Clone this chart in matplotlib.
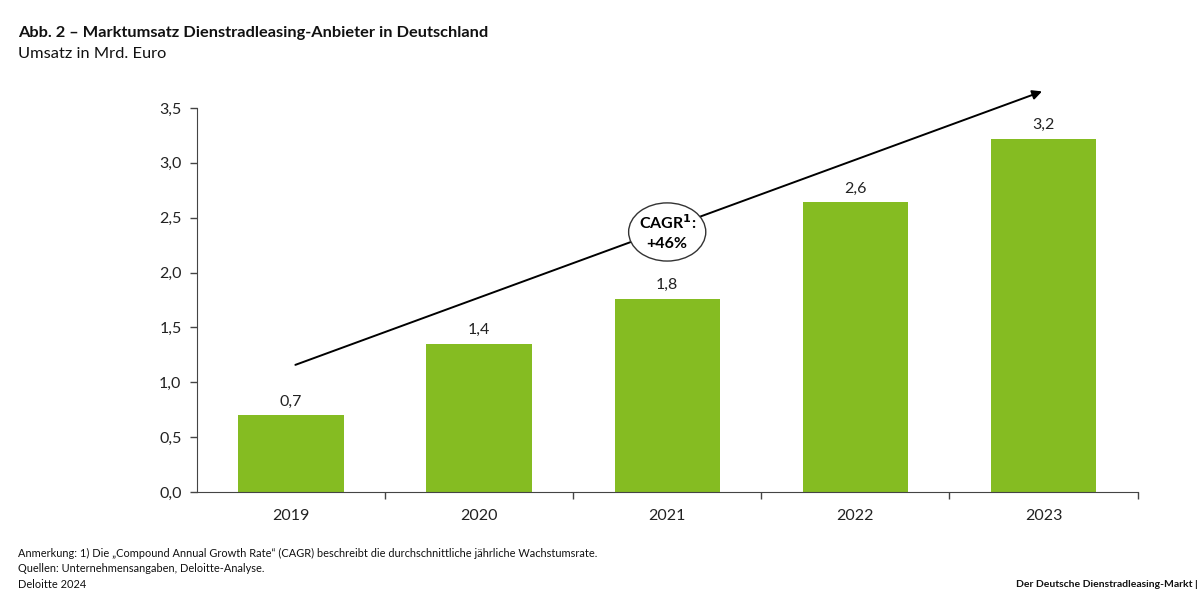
import matplotlib
matplotlib.use("Agg")
import matplotlib.pyplot as plt
from matplotlib.patches import Ellipse

plt.rcParams['font.family'] = ['Lato', 'DejaVu Sans']

jahre = ['2019', '2020', '2021', '2022', '2023']
umsatz = [0.70, 1.35, 1.76, 2.64, 3.22]
beschriftung = ['0,7', '1,4', '1,8', '2,6', '3,2']
y_ticks = [0.0, 0.5, 1.0, 1.5, 2.0, 2.5, 3.0, 3.5]
y_tick_labels = ['0,0', '0,5', '1,0', '1,5', '2,0', '2,5', '3,0', '3,5']

gruen = '#85BC22'

fig = plt.figure(figsize=(12, 6.15), dpi=100)
ax = fig.add_axes([0.164, 0.2, 0.784, 0.6244])

x = range(len(jahre))
ax.bar(x, umsatz, width=0.56, color=gruen, zorder=2)

for i, v in enumerate(umsatz):
    ax.text(i, v + 0.06, beschriftung[i], ha='center', va='bottom', fontsize=11.5, color='#222222')

ax.set_xlim(-0.5, len(jahre) - 0.5)
ax.set_ylim(0, 3.5)

ax.set_yticks(y_ticks)
ax.set_yticklabels(y_tick_labels, fontsize=11.5, color='#222222')
ax.set_xticks(list(x))
ax.set_xticklabels(jahre, fontsize=11.5, color='#222222')
ax.tick_params(axis='x', length=0, pad=12)
ax.tick_params(axis='y', length=5, direction='out', width=1, color='#444444', pad=6)
# Teilstriche zwischen den Kategorien (wie bei Excel)
ax.set_xticks([i + 0.5 for i in range(len(jahre))], minor=True)
ax.tick_params(axis='x', which='minor', length=5, width=1, color='#444444')

for s in ['top', 'right']:
    ax.spines[s].set_visible(False)
ax.spines['left'].set_color('#444444')
ax.spines['bottom'].set_color('#444444')

# CAGR-Pfeil
ax.annotate('', xy=(4.006, 3.66), xytext=(0.01, 1.15),
            arrowprops=dict(arrowstyle='-|>', color='black', lw=1.4, mutation_scale=14),
            annotation_clip=False, zorder=3)
ell = Ellipse((2.0, 2.37), width=0.41, height=0.53, facecolor='white', edgecolor='#333333',
              lw=1.0, zorder=4, clip_on=False)
ax.add_patch(ell)
ax.text(2.0, 2.37, 'CAGR$^{\\mathbf{1}}$:\n+46%', ha='center', va='center', fontsize=11.5,
        fontweight='bold', zorder=5, linespacing=1.4)

fig.text(0.015, 0.946, 'Abb. 2 \u2013 Marktumsatz Dienstradleasing-Anbieter in Deutschland',
         fontsize=11.8, fontweight='bold', ha='left', va='center', color='#111111')
fig.text(0.015, 0.912, 'Umsatz in Mrd. Euro', fontsize=11.8, ha='left', va='center', color='#111111')

fig.text(0.015, 0.1, 'Anmerkung: 1) Die \u201eCompound Annual Growth Rate\u201c (CAGR) beschreibt die durchschnittliche j\u00e4hrliche Wachstumsrate.',
         fontsize=7.9, ha='left', va='center', color='#111111')
fig.text(0.015, 0.075, 'Quellen: Unternehmensangaben, Deloitte-Analyse.', fontsize=7.9,
         ha='left', va='center', color='#111111')
fig.text(0.015, 0.05, 'Deloitte 2024', fontsize=7.9, ha='left', va='center', color='#111111')
fig.text(0.998, 0.05, 'Der Deutsche Dienstradleasing-Markt |', fontsize=7.5, fontweight='bold',
         ha='right', va='center', color='#111111')

fig.savefig('out.png', dpi=100)
